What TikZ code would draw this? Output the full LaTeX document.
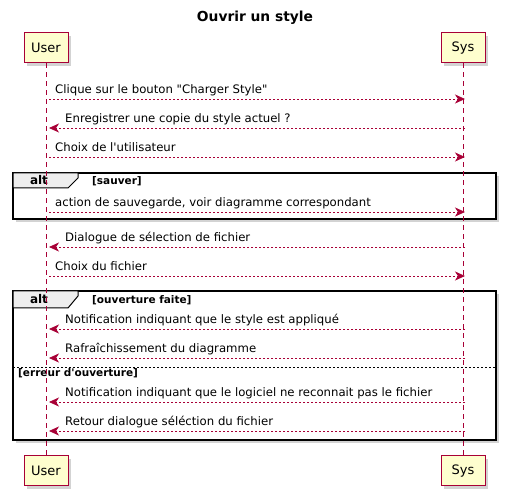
\documentclass[tikz,border=0pt]{standalone}
\usepackage{fontspec}
\setmainfont{DejaVu Sans}
\usetikzlibrary{arrows.meta,shadows}

\definecolor{umlred}{HTML}{A80036}
\definecolor{umlfill}{HTML}{FEFECE}
\definecolor{umltab}{HTML}{EEEEEE}

\begin{document}
\begin{tikzpicture}[
    x = 1pt,
    y = -1pt,
    >={Stealth[length=10pt,width=9pt,inset=3pt]},
    part/.style = {
      draw = umlred,
      fill = umlfill,
      line width = 1,
      minimum width = 44,
      minimum height = 30,
      inner sep = 0pt,
      font = \fontsize{13}{15}\selectfont,
      drop shadow = {shadow xshift=3pt, shadow yshift=-3pt, opacity=.35}
    },
    life/.style = {
      draw = umlred,
      line width = 0.8,
      dash pattern = on 5pt off 4pt
    },
    msg/.style = {
      draw = umlred,
      line width = 0.8,
      dash pattern = on 2pt off 2pt,
      ->,
      color = umlred
    },
    label/.style = {
      anchor = base west,
      inner sep = 0pt,
      font = \fontsize{11.7}{14}\selectfont
    },
    guard/.style = {
      anchor = base west,
      inner sep = 0pt,
      font = \bfseries\fontsize{10.5}{12}\selectfont
    },
    frame/.style = {
      draw = black,
      line width = 1.5,
      drop shadow = {shadow xshift=3pt, shadow yshift=-3pt, opacity=.35}
    },
    tab/.style = {
      draw = black,
      line width = 1,
      fill = umltab
    }
  ]
  \useasboundingbox (0,0) rectangle (507,497);

  % title
  \node[font=\bfseries\fontsize{13.8}{16}\selectfont, anchor=base] (title) at (255,22) {Ouvrir un style};

  % participants
  \node[part] (userTop) at (46,48) {User};
  \node[part] (sysTop) at (463,48) {Sys};
  \node[part] (userBot) at (46,471) {User};
  \node[part] (sysBot) at (463,471) {Sys};

  % alt frames
  \scope[]
    \draw[frame, fill=white] (13,173) rectangle (496,219);
    \draw[tab] (13,173) -- (78,173) -- (78,178) -- (68,188) -- (13,188) -- cycle;
    \node[font=\bfseries\fontsize{12}{14}\selectfont, anchor=base] (alt1) at (39,185) {alt};
    \node[guard] (g1) at (92,185) {[sauver]};

    \draw[frame, fill=white] (13,291) rectangle (496,440);
    \draw[tab] (13,291) -- (78,291) -- (78,296) -- (68,308) -- (13,308) -- cycle;
    \node[font=\bfseries\fontsize{12}{14}\selectfont, anchor=base] (alt2) at (39,304) {alt};
    \node[guard] (g2) at (92,304) {[ouverture faite]};
    \draw[black, line width=0.8, dash pattern=on 2pt off 2pt] (13,367) -- (496,367);
    \node[guard] (g3) at (18,377) {[erreur d\textquotesingle ouverture]};
  \endscope

  % lifelines
  \draw[life] (userTop) -- (userBot);
  \draw[life] (sysTop) -- (sysBot);

  \foreach \n/\y in {1/99,2/128,3/157,4/212,5/247,6/276,7/329,8/358,9/402,10/431} {
    \coordinate (u\n) at (49,\y);
    \coordinate (s\n) at (465,\y);
  }

  % messages
  \draw[msg] (u1) -- (s1);
  \node[label] (m1) at (55,94) {Clique sur le bouton \textquotedbl Charger Style\textquotedbl};
  \draw[msg] (s2) -- (u2);
  \node[label] (m2) at (65,123) {Enregistrer une copie du style actuel ?};
  \draw[msg] (u3) -- (s3);
  \node[label] (m3) at (55,152) {Choix de l\textquotesingle utilisateur};
  \draw[msg] (u4) -- (s4);
  \node[label] (m4) at (55,207) {action de sauvegarde, voir diagramme correspondant};
  \draw[msg] (s5) -- (u5);
  \node[label] (m5) at (65,242) {Dialogue de sélection de fichier};
  \draw[msg] (u6) -- (s6);
  \node[label] (m6) at (55,271) {Choix du fichier};
  \draw[msg] (s7) -- (u7);
  \node[label] (m7) at (65,324) {Notification indiquant que le style est appliqué};
  \draw[msg] (s8) -- (u8);
  \node[label] (m8) at (65,353) {Rafraîchissement du diagramme};
  \draw[msg] (s9) -- (u9);
  \node[label] (m9) at (65,397) {Notification indiquant que le logiciel ne reconnait pas le fichier};
  \draw[msg] (s10) -- (u10);
  \node[label] (m10) at (65,426) {Retour dialogue séléction du fichier};
\end{tikzpicture}
\end{document}
